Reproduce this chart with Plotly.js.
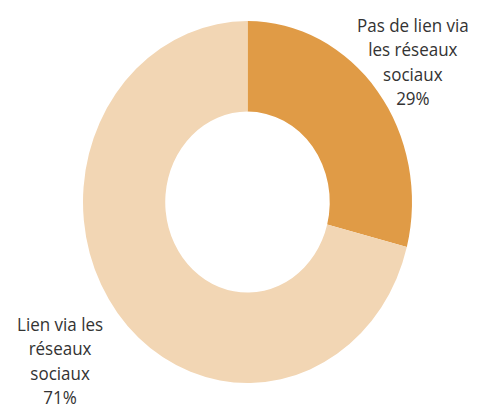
<!DOCTYPE html>
<html>
<head>
<meta charset="utf-8">
<script src="https://cdn.plot.ly/plotly-3.0.1.min.js"></script>
<style>
html, body { margin: 0; padding: 0; background: #ffffff; overflow: hidden; width: 478px; height: 405px; }
#wrap { position: relative; width: 478px; height: 405px; overflow: hidden; }
#chart { position: absolute; left: 0; top: 0; width: 478px; height: 368px; transform: scaleY(1.1); transform-origin: 0 0; }
</style>
</head>
<body>
<div id="wrap"><div id="chart"></div></div>
<script>
// Data
var categories = ["Pas de lien via<br>les réseaux<br>sociaux", "Lien via les<br>réseaux<br>sociaux"];
var values = [29, 71];
var colors = ["#E09B46", "#F2D6B4"];

// Label placement (paper coordinates)
var labelX = [0.864, 0.1255];
var labelY = [0.8505, 0.1087];

var annotations = categories.map(function (c, i) {
  return {
    text: c + "<br>" + values[i] + "%",
    xref: "paper", yref: "paper",
    x: labelX[i], y: labelY[i],
    xanchor: "center", yanchor: "middle",
    align: "center",
    showarrow: false,
    font: { family: "Open Sans, sans-serif", size: 17, color: "#333333" }
  };
});

var trace = {
  type: "pie",
  labels: categories,
  values: values,
  hole: 0.5,
  sort: false,
  direction: "clockwise",
  rotation: 0,
  marker: { colors: colors, line: { width: 0 } },
  textinfo: "none",
  hoverinfo: "none",
  domain: { x: [83 / 478, 412 / 478], y: [0.0538, 0.948] }
};

var layout = {
  width: 478,
  height: 368,
  margin: { l: 0, r: 0, t: 0, b: 0 },
  paper_bgcolor: "rgba(0,0,0,0)",
  plot_bgcolor: "rgba(0,0,0,0)",
  showlegend: false,
  annotations: annotations
};

Plotly.newPlot("chart", [trace], layout, { staticPlot: true, displayModeBar: false });
</script>
</body>
</html>
